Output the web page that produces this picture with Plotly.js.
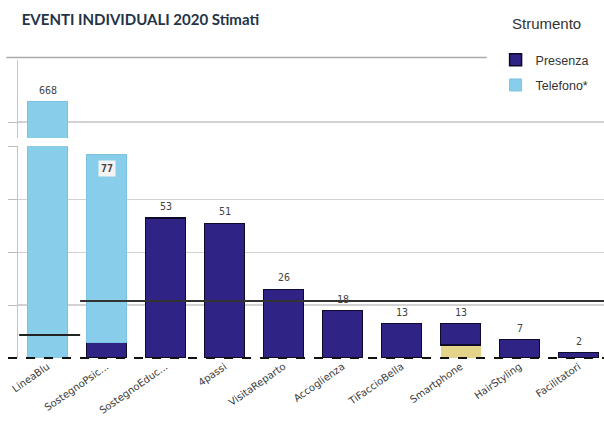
<!DOCTYPE html>
<html><head><meta charset="utf-8">
<script src="https://cdn.plot.ly/plotly-3.0.1.min.js"></script>
<style>html,body{margin:0;padding:0;background:#fff}</style>
</head><body>
<div id="chart" style="width:604px;height:424px"></div>
<script>
const categories = ["LineaBlu","SostegnoPsic...","SostegnoEduc...","4passi","VisitaReparto","Accoglienza","TiFaccioBella","Smartphone","HairStyling","Facilitatori"];
const altro    = [0, 0, 0, 0, 0, 0, 0, 5, 0, 0];
const presenza = [0, 6, 53, 51, 26, 18, 13, 8, 7, 2];
const telefono = [668, 71, 0, 0, 0, 0, 0, 0, 0, 0];
const totals   = [668, 77, 53, 51, 26, 18, 13, 13, 7, 2];
const legendTitle = 'Strumento';
const refLineRight = 21.6;
const refLineLeft = 8.7;

const navy = '#2f2385', light = '#88cdea', yellow = '#e3d489';
const nz = a => a.map(v => v === 0 ? null : v);

const traces = [
  {type:'bar', name:'Altro', x:categories, y:nz(altro), marker:{color:yellow, line:{color:yellow, width:0}}, showlegend:false, legendgroup:'p'},
  {type:'bar', name:'Presenza', x:categories, y:nz(presenza), marker:{color:navy, line:{color:'#0d0a2a', width:1.5}}, legendgroup:'p'},
  {type:'bar', name:'Telefono*', x:categories, y:nz(telefono), marker:{color:light, line:{color:'#7cc3e2', width:1}}, legendgroup:'t'},
  {type:'bar', name:'Telefono*', x:categories, y:nz(telefono), yaxis:'y2', marker:{color:light, line:{color:'#7cc3e2', width:1}}, showlegend:false, legendgroup:'t'}
];

const labelFont = {family:'DejaVu Sans Mono, monospace', size:10, color:'#444'};
const annotations = categories.map((c,i)=>{
  if (i===0) return {x:c, y:totals[i], xref:'x', yref:'y2', text:String(totals[i]), showarrow:false, yanchor:'bottom', yshift:3, font:labelFont};
  if (totals[i] > 70) return {x:c, y:totals[i], xref:'x', yref:'y', text:'<b>'+totals[i]+'</b>', showarrow:false, yanchor:'top', yshift:-5, font:labelFont, bgcolor:'#f3f3f3', borderpad:2};
  return {x:c, y:totals[i], xref:'x', yref:'y', text:String(totals[i]), showarrow:false, yanchor:'bottom', yshift:4, font:labelFont};
});
annotations.push({xref:'paper', yref:'paper', x:0.8396, y:1.124, xanchor:'left', yanchor:'middle', showarrow:false,
  text:legendTitle, font:{family:'Liberation Sans, Arial, sans-serif', size:15, color:'#333'}});

const layout = {
  width:604, height:424,
  margin:{l:18, r:0, t:60, b:66},
  paper_bgcolor:'#fff', plot_bgcolor:'#fff',
  barmode:'stack', bargap:0.32,
  title:{text:'<b>EVENTI INDIVIDUALI 2020 Stimati</b>', xref:'container', x:0.036, xanchor:'left', y:0.953, yanchor:'middle',
         font:{family:'Lato, sans-serif', size:15, color:'#233447'}},
  xaxis:{range:[-0.5, 9.43], tickangle:-35, tickfont:{family:'DejaVu Sans, sans-serif', size:10, color:'#3a3a3a'}, showline:false, ticks:'', showgrid:false, zeroline:false},
  yaxis:{domain:[0, 0.711], range:[0, 80.3], showticklabels:false, ticks:'outside', ticklen:9, tickcolor:'#bbb', tickvals:[20,40,60,80],
         gridcolor:'#d2d2d2', gridwidth:1.5, showline:true, linecolor:'#c4c4c4', linewidth:1.5, zeroline:false},
  yaxis2:{domain:[0.738, 1], range:[630, 710.2], anchor:'x', showticklabels:false, ticks:'outside', ticklen:9, tickcolor:'#bbb', tickvals:[646.5],
         gridcolor:'#d2d2d2', gridwidth:1.5, showline:true, linecolor:'#c4c4c4', linewidth:1.5, zeroline:false},
  legend:{x:0.815, xanchor:'left', y:1.05, yanchor:'top', traceorder:'grouped', tracegroupgap:6,
          font:{family:'Liberation Sans, Arial, sans-serif', size:12.5, color:'#333'}, bgcolor:'rgba(255,255,255,0)'},
  shapes:[
    {type:'line', xref:'paper', yref:'y', x0:0.106, x1:1, y0:refLineRight, y1:refLineRight, line:{color:'#333', width:2}},
    {type:'line', xref:'paper', yref:'y', x0:0.002, x1:0.106, y0:refLineLeft, y1:refLineLeft, line:{color:'#222', width:2}},
    {type:'line', xref:'paper', yref:'paper', x0:-0.017, x1:1, y0:0, y1:0, line:{color:'#111', width:2, dash:'dash'}},
    {type:'line', xref:'paper', yref:'paper', x0:-0.02, x1:0.8, y0:1.008, y1:1.008, line:{color:'#aaa', width:1.5}}
  ],
  annotations:annotations
};

Plotly.newPlot('chart', traces, layout, {displayModeBar:false, staticPlot:true});
</script>
</body></html>
